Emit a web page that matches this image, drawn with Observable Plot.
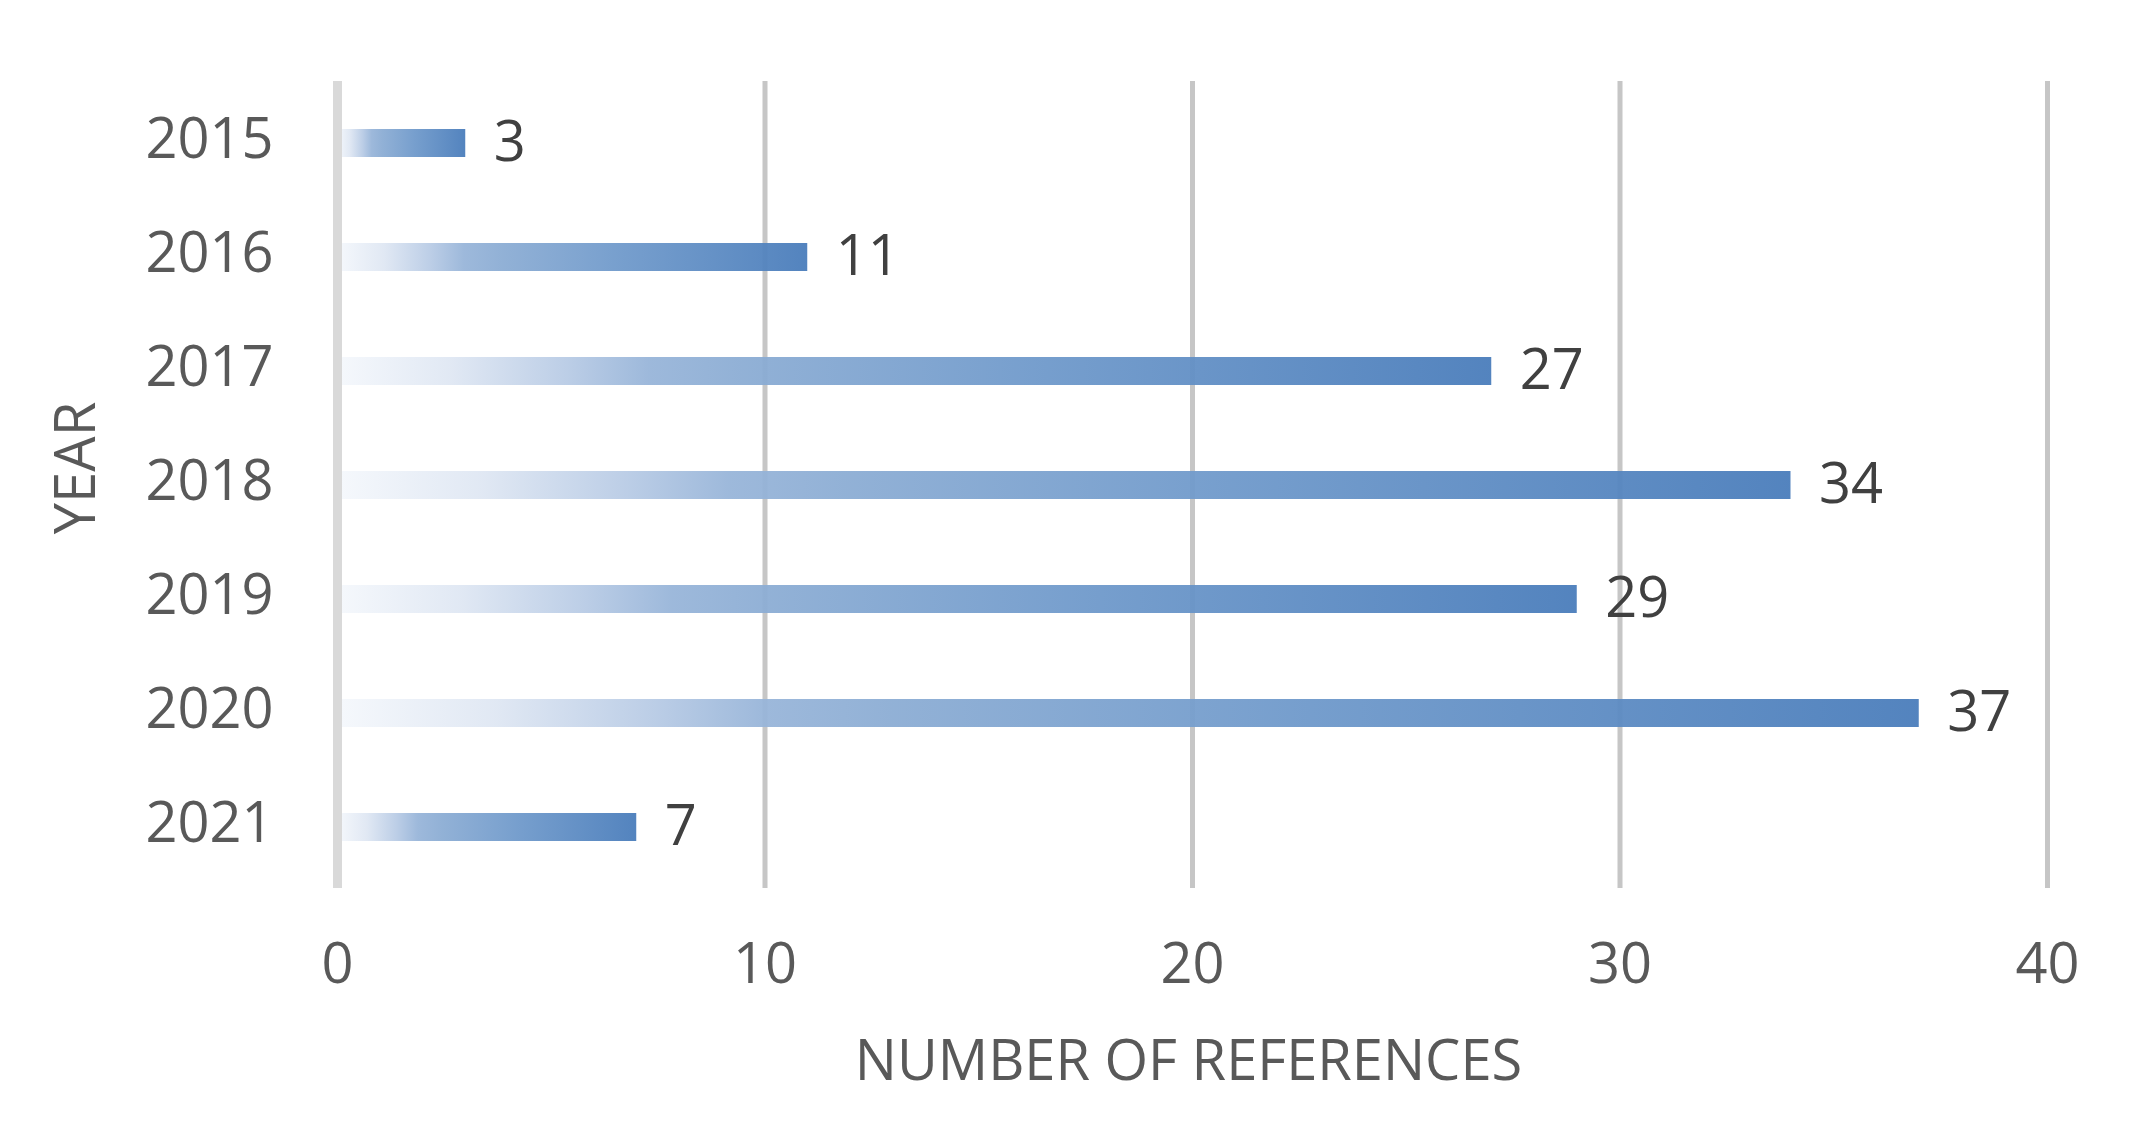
<!DOCTYPE html>
<html>
<head>
<meta charset="utf-8">
<script src="https://cdn.jsdelivr.net/npm/d3@7"></script>
<script src="https://cdn.jsdelivr.net/npm/@observablehq/plot@0.6"></script>
<style>
  html, body { margin: 0; padding: 0; background: #ffffff; }
  #chart svg { display: block; }
</style>
</head>
<body>
<div id="chart"></div>
<script>
const years = ["2015", "2016", "2017", "2018", "2019", "2020", "2021"];
const counts = [3, 11, 27, 34, 29, 37, 7];
const xTicks = [0, 10, 20, 30, 40];
const xTitle = "NUMBER OF REFERENCES";
const yTitle = "YEAR";

const data = years.map((year, i) => ({ year, count: counts[i] }));

const svg = Plot.plot({
  width: 2129,
  height: 1121,
  marginLeft: 337,
  marginRight: 82,
  marginTop: 81,
  marginBottom: 233,
  style: { fontFamily: "'Open Sans', sans-serif", fontSize: "56px", background: "#ffffff", overflow: "visible" },
  x: { domain: [0, 40] },
  y: { domain: years, range: [85, 884], paddingInner: 0.755, paddingOuter: 0.3775 },
  marks: [
    Plot.ruleX(xTicks.filter(d => d > 0), { stroke: "#c6c6c6", strokeWidth: 5 }),
    Plot.barX(data, { x: "count", y: "year", fill: "url(#barGrad)", fillOpacity: 0.95 }),
    Plot.ruleX([0], { stroke: "#d9d9d9", strokeWidth: 9 }),
    Plot.text(data, { x: "count", y: "year", text: d => String(d.count), dx: 28, textAnchor: "start", lineAnchor: "middle", fill: "#404040", fontSize: 56 }),
    Plot.axisX(xTicks, { tickSize: 0, tickPadding: 55, fill: "#595959", fontSize: 56, label: null }),
    Plot.axisY({ tickSize: 0, tickPadding: 64, fill: "#595959", fontSize: 56, label: null, dy: -3 }),
    Plot.text([xTitle], { frameAnchor: "bottom", dy: 174, dx: -4, textAnchor: "middle", lineAnchor: "middle", fill: "#595959", fontSize: 56 }),
    Plot.text([yTitle], { frameAnchor: "left", rotate: -90, dx: -260, dy: -17, textAnchor: "middle", lineAnchor: "middle", fill: "#595959", fontSize: 56 })
  ]
});

const grad = d3.select(svg).insert("defs", ":first-child")
  .append("linearGradient")
  .attr("id", "barGrad")
  .attr("x1", "0").attr("y1", "0").attr("x2", "1").attr("y2", "0");
[
  [0, "#f5f8fc"], [0.1, "#dfe7f3"], [0.2, "#b8cbe5"], [0.27, "#98b5d9"],
  [0.35, "#8cadd4"], [0.6, "#709acb"], [1, "#4a7dbb"]
].forEach(([o, c]) => grad.append("stop").attr("offset", o).attr("stop-color", c));

document.getElementById("chart").appendChild(svg);
</script>
</body>
</html>
